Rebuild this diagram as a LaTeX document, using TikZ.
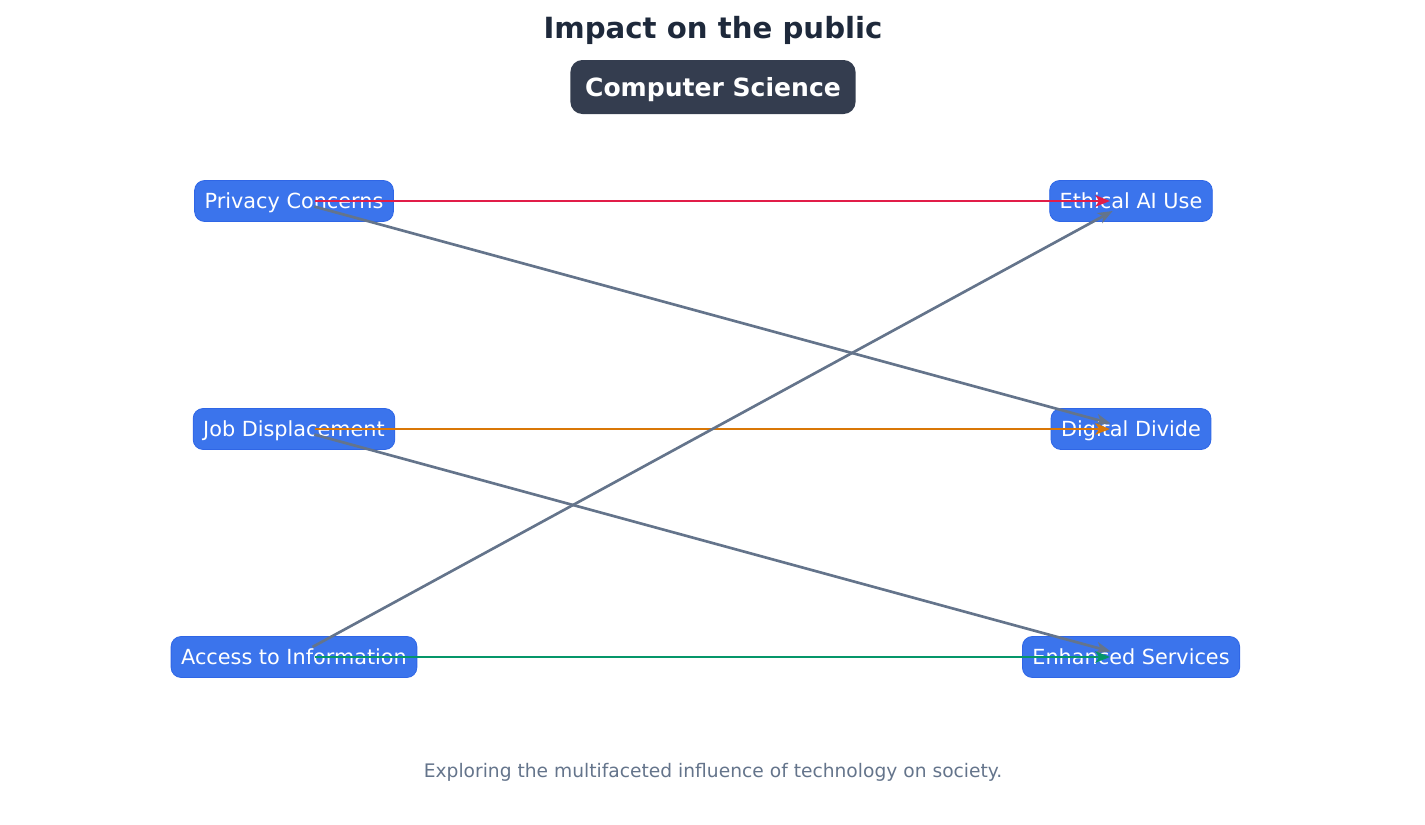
\documentclass[tikz,border=0pt]{standalone}
\usepackage{fontspec}
\setmainfont{DejaVu Sans}
\usetikzlibrary{arrows.meta, positioning}

\definecolor{titlegray}{HTML}{1E293B}
\definecolor{headfill}{HTML}{343D4F}
\definecolor{boxblue}{HTML}{3B74EC}
\definecolor{boxline}{HTML}{2F66E6}
\definecolor{edgegray}{HTML}{64748B}
\definecolor{edgered}{HTML}{E11D48}
\definecolor{edgeorange}{HTML}{D97706}
\definecolor{edgegreen}{HTML}{059669}

\tikzset{
    topic/.style = {draw=boxline, line width=0.6pt, fill=boxblue, text=white,
        rounded corners=7.5pt, inner xsep=7.5pt, minimum height=30.75pt,
        text depth=0.1em, font=\fontsize{15.6}{18}\selectfont},
    link/.style = {-{Stealth[length=11pt, width=8.5pt, inset=3pt]}, line width=2pt,
        shorten <=15.75pt, shorten >=15.75pt}
}

\begin{document}
\begin{tikzpicture} [x=0.75pt, y=-0.75pt]
        \useasboundingbox (0,0) rectangle (1425,825);

        \node (title) [text=titlegray, font=\bfseries\fontsize{21.9}{26}\selectfont]
        at (713,30) {Impact on the public};
        \node (cs) [fill=headfill, text=white, rounded corners=9pt, inner xsep=11pt,
        minimum height=40.5pt, text depth=0pt, font=\bfseries\fontsize{18.8}{22}\selectfont]
        at (713,87) {Computer Science};

        \node (privacy) [topic] at (294,201) {Privacy Concerns};
        \node (job) [topic] at (294,429) {Job Displacement};
        \node (access) [topic] at (294,657) {Access to Information};

        \node (ethical) [topic] at (1131,201) {Ethical AI Use};
        \node (divide) [topic] at (1131,429) {Digital Divide};
        \node (services) [topic] at (1131,657) {Enhanced Services};

        \path [link]
        (privacy.center) edge [edgered] (ethical.center)
        (privacy.center) edge [edgegray] (divide.center)
        (job.center) edge [edgeorange] (divide.center)
        (job.center) edge [edgegray] (services.center)
        (access.center) edge [edgegray] (ethical.center)
        (access.center) edge [edgegreen] (services.center)
        ;

        \node (caption) [text=edgegray, font=\fontsize{14}{17}\selectfont]
        at (713,772) {Exploring the multifaceted influence of technology on society.};
    \end{tikzpicture}
\end{document}
